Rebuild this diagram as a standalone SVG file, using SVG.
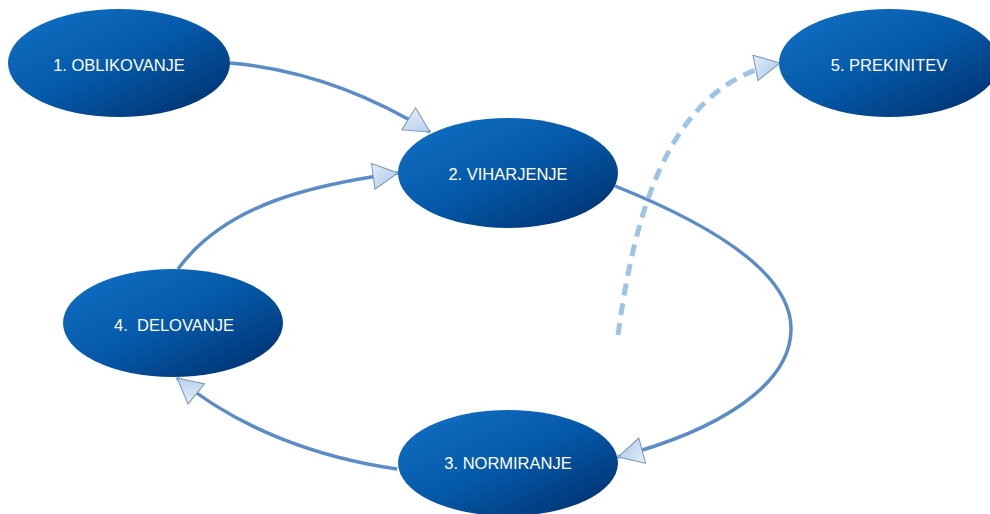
<svg xmlns="http://www.w3.org/2000/svg" width="990" height="514" viewBox="0 0 990 514">
<style>
.node{fill:url(#ng);}
.lbl{fill:#ffffff;font-family:"Liberation Sans",Arial,sans-serif;font-size:16.5px;text-anchor:middle;dominant-baseline:central;}
.edge{fill:none;stroke:#5b8cc8;stroke-width:3.5;marker-end:url(#arr);}
.dash{fill:none;stroke:#9dc3e6;stroke-width:5;stroke-dasharray:12 8;marker-end:url(#arr);}
</style>
<defs>
<linearGradient id="ng" x1="0" y1="0" x2="1" y2="1">
<stop offset="0" stop-color="#1172c6"/>
<stop offset="0.5" stop-color="#0558a8"/>
<stop offset="1" stop-color="#002c68"/>
</linearGradient>
<linearGradient id="ag" x1="0" y1="0" x2="1" y2="1">
<stop offset="0" stop-color="#e3eef8"/>
<stop offset="1" stop-color="#a8c7e8"/>
</linearGradient>
<marker id="arr" markerUnits="userSpaceOnUse" viewBox="0 0 27 28" markerWidth="27" markerHeight="28" refX="26" refY="14" orient="auto">
<path d="M1,1 L26,14 L1,27 Z" fill="url(#ag)" stroke="#7d97b5" stroke-width="1"/>
</marker>
</defs>
<g id="connectors">
<path class="edge" d="M230,63 C310,70 375,98 430,132"/>
<path class="edge" d="M178,269 C225,205 310,185 398,173"/>
<path class="edge" d="M615,186 C730,232 792,280 791,330 C790,385 720,430 618,457"/>
<path class="edge" d="M397,469 C320,458 240,430 177,378"/>
<path class="dash" d="M618,335 C635,210 670,85 780,63"/>
</g>
<g id="node1"><ellipse class="node" cx="119" cy="63" rx="111" ry="54"/><text class="lbl" x="119" y="65">1. OBLIKOVANJE</text></g>
<g id="node2"><ellipse class="node" cx="508" cy="173" rx="110" ry="55"/><text class="lbl" x="508" y="174">2. VIHARJENJE</text></g>
<g id="node3"><ellipse class="node" cx="508" cy="463" rx="110" ry="53"/><text class="lbl" x="508" y="463">3. NORMIRANJE</text></g>
<g id="node4"><ellipse class="node" cx="173" cy="323" rx="110" ry="54"/><text class="lbl" x="174" y="325" xml:space="preserve">4.  DELOVANJE</text></g>
<g id="node5"><ellipse class="node" cx="889" cy="63" rx="110" ry="54"/><text class="lbl" x="889" y="65">5. PREKINITEV</text></g>
</svg>
